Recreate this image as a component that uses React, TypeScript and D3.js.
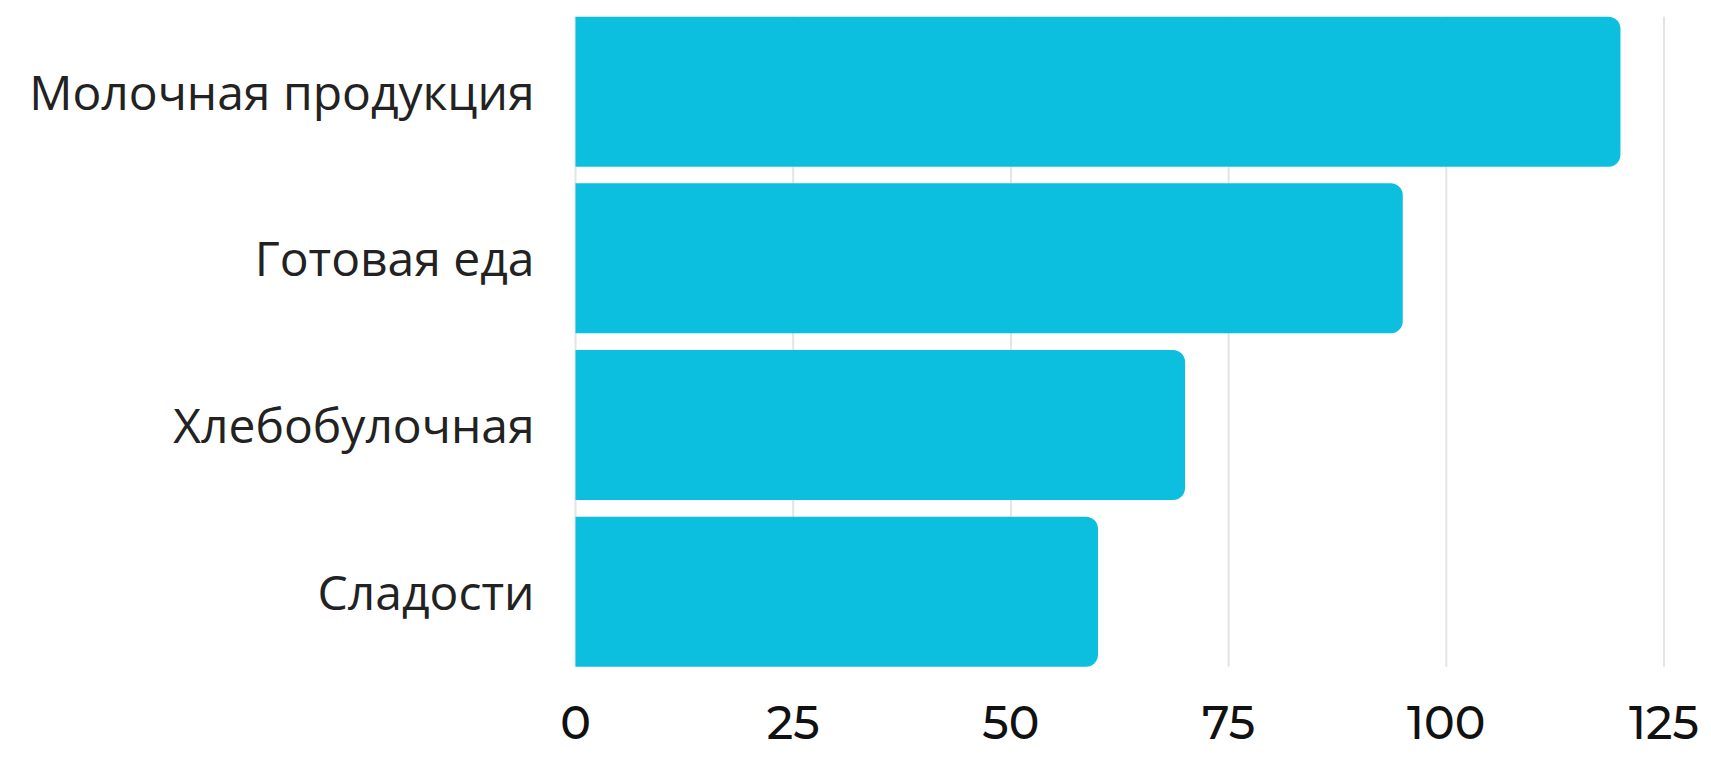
import React from "react";
import * as d3 from "d3";

const categories = ["Молочная продукция", "Готовая еда", "Хлебобулочная", "Сладости"];
const values = [120, 95, 70, 60];
const ticks = [0, 25, 50, 75, 100, 125];

const W = 1711;
const H = 768;

function barPath(x0: number, x1: number, y0: number, h: number, r: number) {
  const rr = Math.min(r, (x1 - x0) / 2, h / 2);
  return `M${x0},${y0}H${x1 - rr}A${rr},${rr} 0 0 1 ${x1},${y0 + rr}V${y0 + h - rr}A${rr},${rr} 0 0 1 ${x1 - rr},${y0 + h}H${x0}Z`;
}

export default function App() {
  const x = d3.scaleLinear().domain([0, 125]).range([575.5, 1664]);
  const y = d3
    .scaleBand<string>()
    .domain(categories)
    .range([8.33, 675])
    .paddingInner(0.1)
    .paddingOuter(0.05);
  const gridTop = y(categories[0])!;
  const gridBottom = y(categories[categories.length - 1])! + y.bandwidth();

  return (
    <svg
      width={W}
      height={H}
      style={{ position: "absolute", left: 0, top: 0, background: "#fff" }}
    >
      <g>
        {ticks.map((t) => (
          <line
            key={t}
            x1={x(t)}
            x2={x(t)}
            y1={gridTop}
            y2={gridBottom}
            stroke="#e4e4e4"
            strokeWidth={2}
          />
        ))}
      </g>
      <g>
        {categories.map((c, i) => (
          <path
            key={c}
            d={barPath(x(0), x(values[i]), y(c)!, y.bandwidth(), 12)}
            fill="#0cbfdf"
          />
        ))}
      </g>
      <g>
        {categories.map((c) => (
          <text
            key={c}
            x={x(0) - 41}
            y={y(c)! + y.bandwidth() / 2 + 18}
            textAnchor="end"
            fontFamily="'Open Sans', sans-serif"
            fontSize={48}
            fill="#222"
          >
            {c}
          </text>
        ))}
      </g>
      <g>
        {ticks.map((t) => (
          <text
            key={t}
            x={x(t)}
            y={739}
            textAnchor="middle"
            fontFamily="Montserrat, Lato, sans-serif"
            fontSize={46}
            fontWeight={500}
            fill="#111"
          >
            {t}
          </text>
        ))}
      </g>
    </svg>
  );
}
